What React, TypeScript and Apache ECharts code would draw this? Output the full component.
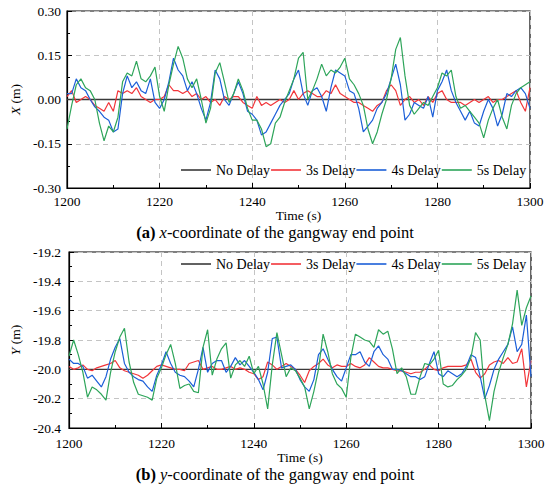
import React, { useEffect, useRef } from "react";
import * as echarts from "echarts";

const TIMES: number[] = Array.from({ length: 101 }, (_, i) => 1200 + i);

const SERIES_NAMES = ["No Delay", "3s Delay", "4s Delay", "5s Delay"];
const COLORS = ["#3a3a3a", "#f2353a", "#1c5fd8", "#2ea55a"];

const X_TICKS = [1200, 1220, 1240, 1260, 1280, 1300];
const X_TICK_LABELS_TOP = ["-0.30", "-0.15", "0.00", "0.15", "0.30"];
const Y_TICK_LABELS_BOTTOM = ["-20.4", "-20.2", "-20.0", "-19.8", "-19.6", "-19.4", "-19.2"];

// (a) x-coordinate (m)
const X_NO_DELAY = [0, 0];
const X_3S = [
  0.01, 0.03, -0.01, 0.0, 0.01, 0.0, -0.02, -0.03, -0.04, -0.01,
  -0.04, 0.03, 0.02, 0.03, 0.02, 0.04, 0.01, 0.0, -0.01, 0.0,
  0.0, 0.01, 0.05, 0.03, 0.03, 0.02, 0.03, 0.01, 0.02, 0.0,
  0.01, -0.01, 0.0, -0.02, 0.01, 0.0, 0.01, 0.01, -0.01, -0.02,
  -0.03, 0.01, -0.02, -0.01, -0.02, -0.01, 0.0, -0.01, 0.0, 0.03,
  0.0, 0.02, 0.03, 0.02, 0.01, 0.01, 0.03, 0.02, 0.05, 0.02,
  0.01, 0.0, -0.01, -0.01, -0.02, -0.03, -0.04, -0.02, -0.01, 0.03,
  0.05, 0.03, -0.02, 0.0, 0.01, -0.01, 0.0, -0.02, 0.01, -0.01,
  0.02, 0.03, 0.0, -0.01, -0.01, -0.01, -0.02, -0.01, 0.0, -0.01,
  0.0, 0.01, -0.01, 0.0, 0.0, 0.01, 0.02, 0.03, -0.01, -0.04,
  0.04,
];
const X_4S = [
  0.02, 0.02, 0.07, 0.04, 0.03, 0.0, -0.025, -0.04, -0.06, -0.07,
  -0.11, -0.1, 0.02, 0.08, 0.04, 0.06, 0.03, 0.02, 0.07, -0.01,
  -0.03, 0.0, 0.06, 0.14, 0.1, 0.08, 0.03, 0.06, 0.02, -0.03,
  -0.07, -0.01, 0.1, 0.07, 0.0, -0.02, 0.02, 0.06, 0.02, -0.04,
  -0.05, -0.07, -0.12, -0.11, -0.08, -0.05, -0.02, 0.0, 0.02, 0.07,
  0.1, 0.02, -0.02, 0.03, 0.04, 0.01, -0.04, 0.04, 0.1, 0.09,
  0.08, 0.03, 0.02, -0.03, -0.11, -0.09, -0.07, -0.03, -0.01, 0.02,
  0.07, 0.12, 0.05, -0.07, -0.05, -0.01, -0.02, -0.03, 0.01, -0.06,
  0.03, 0.06, 0.1, 0.03, -0.01, -0.04, -0.07, -0.04, -0.08, -0.09,
  -0.04, 0.0, -0.03, -0.09, -0.05, 0.02, 0.01, 0.03, 0.04, 0.02,
  -0.03,
];
const X_5S = [
  -0.1, -0.02, 0.05, 0.07, 0.04, 0.03, 0.0, -0.08, -0.14, -0.09,
  -0.11, -0.06, 0.06, 0.09, 0.08, 0.13, 0.07, 0.06, 0.08, 0.11,
  0.01, -0.04, 0.05, 0.12, 0.18, 0.14, 0.07, 0.04, 0.07, 0.0,
  -0.08, -0.03, 0.09, 0.125, 0.06, -0.01, 0.02, 0.07, 0.03, -0.03,
  -0.07, -0.07, -0.1, -0.16, -0.15, -0.08, -0.06, -0.01, 0.03, 0.07,
  0.14, 0.16, 0.0, 0.03, 0.07, 0.12, 0.08, 0.1, 0.09, 0.11,
  0.14, 0.07, 0.05, 0.02, -0.02, -0.1, -0.15, -0.11, -0.05, 0.0,
  0.07, 0.17, 0.21, 0.08, -0.02, -0.05, -0.03, -0.01, -0.02, 0.01,
  0.04, 0.09, 0.08, 0.1, 0.01, -0.03, -0.02, -0.04, -0.06, -0.08,
  -0.13, -0.07, -0.03, 0.0, -0.06, -0.1, -0.02, 0.02, 0.04, 0.05,
  0.06,
];

// (b) y-coordinate (m)
const Y_NO_DELAY = [-20.0, -20.0];
const Y_3S = [
  -19.98, -20.0, -19.99, -19.97, -20.0, -20.01, -19.99, -19.98, -19.97, -19.96,
  -19.94, -19.99, -20.01, -20.02, -20.03, -20.04, -20.06, -20.04, -20.01, -19.98,
  -19.97, -19.98, -19.99, -20.0, -20.0, -20.01, -19.96, -19.95, -19.94, -20.0,
  -19.99, -19.98, -20.0, -20.0, -19.99, -19.98, -20.0, -19.99, -20.0, -20.02,
  -20.03, -20.07, -20.05, -19.95, -19.97, -20.0, -19.98, -19.96, -19.98, -20.0,
  -20.04, -20.09, -20.01, -19.98, -19.96, -19.93, -19.97, -19.99, -19.97, -19.98,
  -19.98, -19.96, -19.98, -19.99, -19.97, -19.92, -19.95, -19.98, -19.99, -19.99,
  -20.0, -20.01, -20.01, -20.02, -20.03, -20.02, -20.02, -20.0, -19.97, -20.0,
  -20.01, -19.99, -19.98, -19.98, -19.98, -19.98, -19.97, -19.93, -20.02, -20.06,
  -20.03, -19.97, -19.95, -19.94, -19.96, -19.92, -19.96, -19.95, -19.86, -20.12,
  -19.94,
];
const Y_4S = [
  -19.93, -19.96, -19.96, -19.98, -20.06, -20.04, -20.08, -20.12, -20.05, -19.93,
  -19.85, -19.79, -19.96, -20.02, -20.05, -20.07, -20.08, -20.12, -20.15, -20.04,
  -19.97, -19.88, -19.96, -20.02, -20.04, -20.05, -20.08, -20.12, -20.0, -19.85,
  -20.02, -19.96, -19.94, -19.94, -20.02, -19.98, -19.92, -19.97, -19.94, -19.98,
  -20.02, -20.07, -20.14, -20.02, -19.79, -19.78, -19.99, -19.98, -19.97, -20.0,
  -20.07, -20.12, -20.15, -20.07, -19.9, -19.86, -19.93, -20.0, -20.05, -20.08,
  -19.99, -19.9, -19.9, -19.88, -19.95, -19.98, -19.88, -19.84, -19.9, -19.93,
  -20.0, -20.0, -20.01, -20.03, -20.05, -20.05, -20.07, -20.05, -19.96, -19.88,
  -20.03, -20.05, -20.01, -20.03, -20.05, -20.03, -19.98, -19.9, -19.92, -20.05,
  -20.2, -20.11, -20.0, -19.93, -19.88, -19.83, -19.71, -19.88, -19.83, -19.63,
  -20.05,
];
const Y_5S = [
  -19.91, -19.8, -19.9, -20.02, -20.19, -20.12, -20.14, -20.17, -20.21, -20.02,
  -19.88, -19.78, -19.72, -19.95, -20.09, -20.17, -20.18, -20.19, -20.21, -20.06,
  -19.99, -19.9, -19.83, -19.96, -20.13, -20.11, -20.1, -20.15, -20.16, -19.85,
  -19.73, -20.04, -19.93, -19.86, -19.82, -20.06, -19.97, -19.94, -19.98, -19.91,
  -20.03, -19.98, -20.1, -20.27, -19.97, -19.75, -19.9, -20.05, -19.99, -20.01,
  -20.06, -20.12, -20.27, -20.15, -20.0, -19.76, -19.88, -20.03, -20.1, -20.13,
  -20.19, -19.92, -19.76, -19.78, -19.8, -19.81, -19.85, -19.73, -19.76, -19.74,
  -19.86, -20.03, -19.99, -20.05, -20.17, -20.17, -20.05, -19.96, -19.97, -19.93,
  -19.87, -20.1, -20.12, -20.11, -20.07, -20.04, -20.0, -19.92, -19.75, -19.8,
  -20.18, -20.35, -20.15, -20.02, -19.92, -19.83, -19.69, -19.46, -19.7, -19.58,
  -19.5,
];

const FONT = "'Liberation Serif', 'Times New Roman', serif";

function pairs(values: number[]): [number, number][] {
  return values.map((v, i) => [TIMES[i], v]);
}
function flatPairs(values: number[]): [number, number][] {
  return [
    [X_TICKS[0], values[0]],
    [X_TICKS[X_TICKS.length - 1], values[1]],
  ];
}

export default function App() {
  const ref = useRef<HTMLDivElement>(null);
  useEffect(() => {
    document.body.style.margin = "0";
    if (!ref.current) return;
    const chart = echarts.init(ref.current, undefined, { renderer: "svg" });

    const axisLabel = { color: "#000", fontFamily: FONT, fontSize: 13.5 };
    const splitLine = { show: true, lineStyle: { color: "#c4c4c4", type: [5, 4] as any, width: 1 } };
    const axisLine = { show: true, onZero: false, lineStyle: { color: "#000", width: 1.2 } };
    const axisTick = { show: true, inside: true, length: 5, lineStyle: { color: "#000", width: 1 } };
    const minorTick = { show: true, splitNumber: 2, length: 3, lineStyle: { color: "#000", width: 1 } };

    const xAxisBase = (gridIndex: number, margin: number) => ({
      type: "value",
      gridIndex,
      min: X_TICKS[0],
      max: X_TICKS[X_TICKS.length - 1],
      interval: 20,
      name: "Time (s)",
      nameLocation: "middle",
      nameGap: 19,
      nameTextStyle: { color: "#000", fontFamily: FONT, fontSize: 13.5 },
      axisLine,
      axisTick,
      minorTick,
      splitLine,
      axisLabel: { ...axisLabel, margin, formatter: (v: number) => String(v) },
    });

    const lineSeries = (name: string, data: any, xi: number, color: string, width = 1.2) => ({
      type: "line",
      name,
      xAxisIndex: xi,
      yAxisIndex: xi,
      data,
      showSymbol: false,
      symbol: "none",
      lineStyle: { color, width },
      itemStyle: { color },
      emphasis: { disabled: true },
    });

    const legendBase = {
      data: SERIES_NAMES,
      left: 181,
      width: 365,
      padding: 0,
      icon: "rect",
      itemWidth: 30,
      itemHeight: 1.6,
      itemGap: 1,
      textStyle: { color: "#000", fontFamily: FONT, fontSize: 14 },
      selectedMode: false,
    };

    const yName = (letter: string) => ({
      name: `{i|${letter}} (m)`,
      nameLocation: "middle",
      nameRotate: 90,
      nameTextStyle: {
        color: "#000",
        fontFamily: FONT,
        fontSize: 13.5,
        rich: { i: { fontStyle: "italic", fontFamily: FONT, fontSize: 13.5, color: "#000" } },
      },
    });

    const caption = (y: number, tag: string, letter: string) => ({
      type: "text",
      x: 275,
      y,
      style: {
        text: `{b|${tag}} {i|${letter}}-coordinate of the gangway end point`,
        align: "center",
        verticalAlign: "middle",
        fontFamily: FONT,
        fontSize: 16.5,
        fill: "#000",
        rich: {
          b: { fontWeight: "bold", fontFamily: FONT, fontSize: 16.5, fill: "#000" },
          i: { fontStyle: "italic", fontFamily: FONT, fontSize: 16.5, fill: "#000" },
        },
      },
    });

    const option: any = {
      animation: false,
      backgroundColor: "#fff",
      textStyle: { fontFamily: FONT, color: "#000" },
      grid: [
        { left: 53, top: 11, right: 20, height: 177, show: true, borderColor: "#000", borderWidth: 1.2, containLabel: false },
        { left: 59, top: 252, right: 19, height: 176, show: true, borderColor: "#000", borderWidth: 1.2, containLabel: false },
      ],
      legend: [
        { ...legendBase, top: 163 },
        { ...legendBase, top: 257 },
      ],
      xAxis: [xAxisBase(0, 6), xAxisBase(1, 8)],
      yAxis: [
        {
          type: "value",
          gridIndex: 0,
          min: -0.3,
          max: 0.3,
          interval: 0.15,
          ...yName("X"),
          nameGap: 37,
          axisLine,
          axisTick,
          minorTick,
          splitLine,
          axisLabel: {
            ...axisLabel,
            margin: 6,
            formatter: (v: number) => {
              const idx = Math.round((v + 0.3) / 0.15);
              return X_TICK_LABELS_TOP[idx] ?? v.toFixed(2);
            },
          },
        },
        {
          type: "value",
          gridIndex: 1,
          min: -20.4,
          max: -19.2,
          interval: 0.2,
          ...yName("Y"),
          nameGap: 41,
          axisLine,
          axisTick,
          minorTick,
          splitLine,
          axisLabel: {
            ...axisLabel,
            margin: 8,
            formatter: (v: number) => {
              const idx = Math.round((v + 20.4) / 0.2);
              return Y_TICK_LABELS_BOTTOM[idx] ?? v.toFixed(1);
            },
          },
        },
      ],
      series: [
        lineSeries(SERIES_NAMES[0], flatPairs(X_NO_DELAY), 0, COLORS[0], 1.4),
        lineSeries(SERIES_NAMES[1], pairs(X_3S), 0, COLORS[1]),
        lineSeries(SERIES_NAMES[2], pairs(X_4S), 0, COLORS[2]),
        lineSeries(SERIES_NAMES[3], pairs(X_5S), 0, COLORS[3]),
        lineSeries(SERIES_NAMES[0], flatPairs(Y_NO_DELAY), 1, COLORS[0], 1.4),
        lineSeries(SERIES_NAMES[1], pairs(Y_3S), 1, COLORS[1]),
        lineSeries(SERIES_NAMES[2], pairs(Y_4S), 1, COLORS[2]),
        lineSeries(SERIES_NAMES[3], pairs(Y_5S), 1, COLORS[3]),
      ],
      graphic: [caption(232, "(a)", "x"), caption(474, "(b)", "y")],
    };

    chart.setOption(option);
    return () => chart.dispose();
  }, []);

  return <div ref={ref} style={{ width: 550, height: 488 }} />;
}
